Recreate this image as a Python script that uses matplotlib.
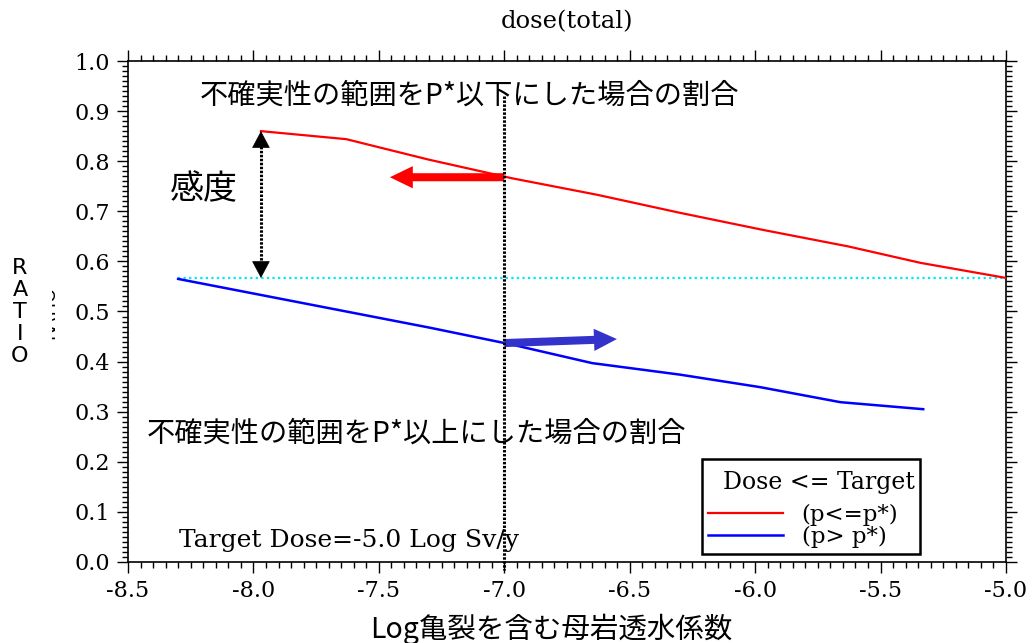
import matplotlib
matplotlib.use("Agg")
import matplotlib.pyplot as plt
from matplotlib.ticker import MultipleLocator, FormatStrFormatter
from matplotlib.patches import Rectangle

# ---- data ----
red_x = [-7.97, -7.63, -7.30, -6.97, -6.63, -6.30, -5.97, -5.63, -5.34, -5.00]
red_y = [0.860, 0.844, 0.803, 0.766, 0.733, 0.697, 0.663, 0.630, 0.597, 0.567]
blue_x = [-8.30, -7.97, -7.63, -7.30, -6.97, -6.65, -6.30, -5.98, -5.66, -5.33]
blue_y = [0.565, 0.533, 0.500, 0.468, 0.434, 0.397, 0.374, 0.349, 0.319, 0.305]
ref_level = 0.567
ref_x = [-8.30, -5.00]
p_star_x = -7.0
red_label = "(p<=p*)"
blue_label = "(p> p*)"
legend_title = "  Dose <= Target"
title = "dose(total)"
xlabel = "Log亀裂を含む母岩透水係数"
ylabel = "R\nA\nT\nI\nO"
text_upper = "不確実性の範囲をP*以下にした場合の割合"
text_lower = "不確実性の範囲をP*以上にした場合の割合"
text_sens = "感度"
text_target = "Target Dose=-5.0 Log Sv/y"

CJK = ["Noto Sans CJK JP", "DejaVu Sans"]
SERIF = "DejaVu Serif"

plt.rcParams["font.family"] = SERIF
plt.rcParams["xtick.labelsize"] = 16
plt.rcParams["ytick.labelsize"] = 16

W, H = 1033, 643
L, R, T, B = 128, 1006, 61, 562
fig = plt.figure(figsize=(W / 100, H / 100), dpi=100)
ax = fig.add_axes([L / W, 1 - B / H, (R - L) / W, (B - T) / H])

ax.set_xlim(-8.5, -5.0)
ax.set_ylim(0.0, 1.0)

ax.xaxis.set_major_locator(MultipleLocator(0.5))
ax.xaxis.set_minor_locator(MultipleLocator(0.05))
ax.yaxis.set_major_locator(MultipleLocator(0.1))
ax.yaxis.set_minor_locator(MultipleLocator(0.01))
ax.xaxis.set_major_formatter(FormatStrFormatter("%.1f"))
ax.yaxis.set_major_formatter(FormatStrFormatter("%.1f"))

ax.tick_params(which="both", direction="out", top=True, right=True,
               labeltop=False, labelright=False, width=1.0, color="black")
ax.tick_params(which="major", length=8, pad=5)
ax.tick_params(which="minor", length=4)
for sp in ax.spines.values():
    sp.set_linewidth(1.2)

# lines
ax.plot(red_x, red_y, color="red", lw=1.6, label=red_label, zorder=3)
ax.plot(blue_x, blue_y, color="blue", lw=1.8, label=blue_label, zorder=3)
ax.plot(ref_x, [ref_level, ref_level], color="#00e5ff", lw=1.6,
        linestyle=(0, (1, 1.5)), zorder=2)

# vertical dotted line at p*
ax.plot([p_star_x, p_star_x], [0.93, -0.015], color="black", lw=2.2,
        linestyle=(0, (0.8, 0.5)), zorder=5, clip_on=False)

# double arrow (sensitivity)
sx = red_x[0]
ax.plot([sx, sx], [ref_level + 0.02, red_y[0] - 0.02], color="black", lw=2.2,
        linestyle=(0, (0.8, 0.5)), zorder=4)
for tip, base in [(red_y[0], red_y[0] - 0.03), (ref_level, ref_level + 0.03)]:
    ax.annotate("", xy=(sx, tip), xytext=(sx, base),
                arrowprops=dict(arrowstyle="-|>,head_length=0.75,head_width=0.4",
                                color="black", lw=0.5, shrinkA=0, shrinkB=0,
                                mutation_scale=15))

# thick arrows
ax.annotate("", xy=(-7.456, 0.768), xytext=(p_star_x, 0.768),
            arrowprops=dict(arrowstyle="simple,head_length=1.65,head_width=1.6,tail_width=0.58",
                            color="red", lw=0, shrinkA=0, shrinkB=0,
                            mutation_scale=10), zorder=4)
ax.annotate("", xy=(-6.551, 0.445), xytext=(p_star_x, 0.437),
            arrowprops=dict(arrowstyle="simple,head_length=1.65,head_width=1.6,tail_width=0.58",
                            color="#3333cc", lw=0, shrinkA=0, shrinkB=0,
                            mutation_scale=10), zorder=4)

# texts
ax.text(-8.212, 0.930, text_upper, fontsize=20.3, family=CJK, va="center", ha="left", zorder=3)
ax.text(-8.424, 0.2555, text_lower, fontsize=20.3, family=CJK, va="center", ha="left", zorder=3)
ax.text(-8.332, 0.7425, text_sens, fontsize=24.5, family=CJK, va="center", ha="left", zorder=3)
ax.text(-8.296, 0.042, text_target, fontsize=18, family=SERIF, va="center", ha="left", zorder=3)

# legend
leg = ax.legend(loc="lower left", bbox_to_anchor=((702 - L) / (R - L), (B - 554) / (B - T)),
                title="\n" + legend_title, alignment="left",
                prop={"family": SERIF, "size": 16.5},
                title_fontproperties={"family": SERIF, "size": 17},
                handlelength=3.3, handletextpad=0.8, labelspacing=0.0,
                fancybox=False, edgecolor="black", framealpha=1, borderpad=0.25,
                borderaxespad=0)
leg.get_title().set_linespacing(0.08)
leg.get_frame().set_linewidth(1.8)
leg.set_zorder(6)
leg._legend_box.sep = 7

# titles / labels
fig.text(567 / W, 1 - 22 / H, title, fontsize=17.5, family=SERIF, ha="center", va="center")
fig.text(551 / W, 1 - 629 / H, xlabel, fontsize=20.5, family=CJK, ha="center", va="center")
fig.text(20 / W, 1 - 312 / H, ylabel, fontsize=16, family="DejaVu Sans", ha="center",
         va="center", linespacing=1.13)

# partially hidden rotated label artifact
fig.text(49 / W, 1 - 312 / H, "RATIO", fontsize=13, family="DejaVu Sans", rotation=90,
         ha="center", va="center", zorder=1)
fig.patches.append(Rectangle((30 / W, 0.3), 22 / W, 0.4, transform=fig.transFigure,
                             facecolor="white", edgecolor="none", zorder=2))

fig.savefig("out.png", dpi=100)
